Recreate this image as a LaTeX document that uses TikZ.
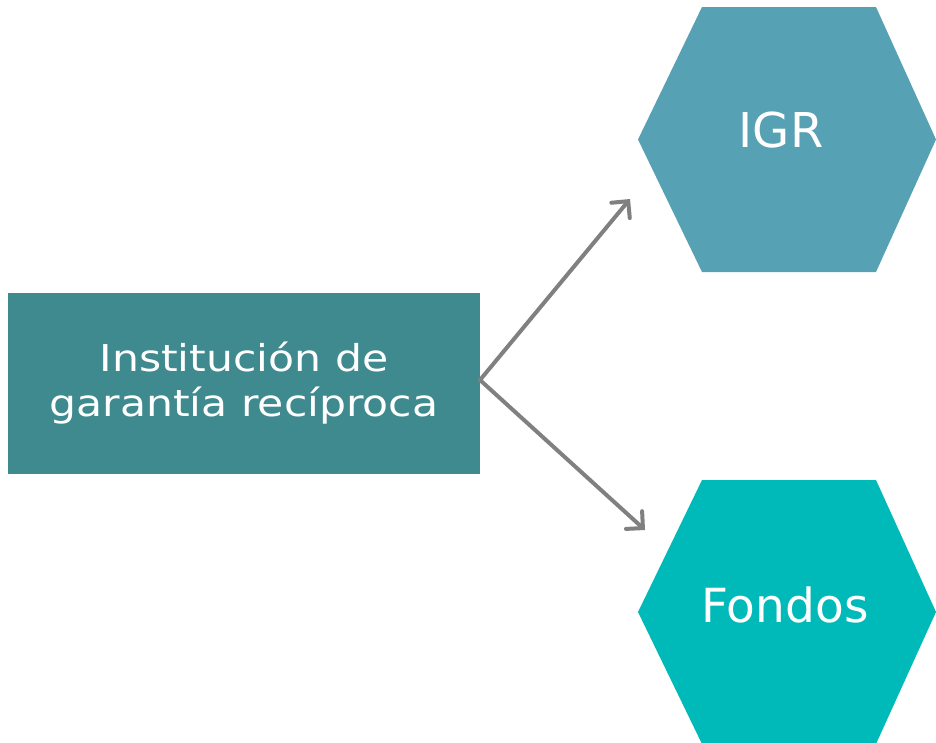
\documentclass[tikz,border=0pt]{standalone}
\usepackage{fontspec}
\setmainfont{DejaVu Sans}
\newfontfamily\widefont[FakeStretch=1.15]{DejaVu Sans}
\usetikzlibrary{arrows.meta}
\definecolor{rectcol}{RGB}{62,138,143}
\definecolor{hexone}{RGB}{86,161,180}
\definecolor{hextwo}{RGB}{0,186,185}
\definecolor{arrcol}{RGB}{128,128,128}
\tikzset{
  box/.style={fill=rectcol, draw=none, minimum width=472pt, minimum height=181pt,
    inner sep=0pt, text=white, align=center, font=\widefont\fontsize{37}{45}\selectfont},
  hexlabel/.style={text=white, inner sep=0pt, font=\fontsize{48}{56}\selectfont},
  conn/.style={draw=arrcol, line width=4pt, line cap=round, line join=round,
    -{Straight Barb[length=12pt,width=24pt,line cap=round]}},
}
\begin{document}
\begin{tikzpicture}[x=1pt,y=-1pt]
\useasboundingbox (0,0) rectangle (936,742);
% hexagons
\fill[hexone] (638,139.5) -- (702,7) -- (876,7) -- (936,139.5) -- (876,272) -- (702,272) -- cycle;
\fill[hextwo] (638,612) -- (702,480) -- (876,480) -- (936,612) -- (876,744) -- (702,744) -- cycle;
\node[hexlabel] (igr) at (781,130) {IGR};
\node[hexlabel, font=\fontsize{47}{55}\selectfont] (fondos) at (785,604.5) {Fondos};
% rectangle
\node[box] (inst) at (244,383.5) {Institución de\\garantía recíproca};
\coordinate (src) at (480,380);
\coordinate (t1) at (630,199);
\coordinate (t2) at (645,530);
\draw[conn] (src) -- (t1);
\draw[conn] (src) -- (t2);
\end{tikzpicture}
\end{document}
